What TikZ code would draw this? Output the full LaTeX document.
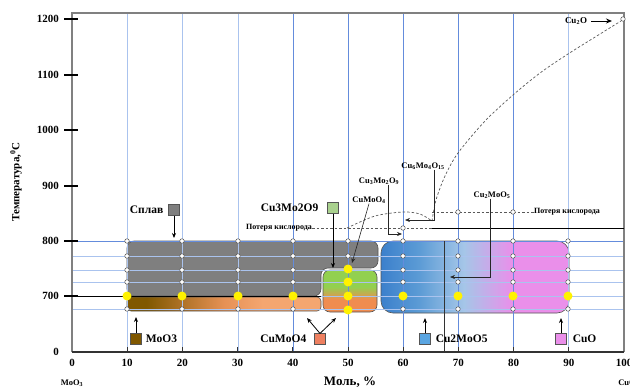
\documentclass[tikz,border=0pt]{standalone}
\usepackage{fontspec}
\setmainfont{Liberation Serif}
\usetikzlibrary{arrows.meta, positioning, calc}

\definecolor{GridBlue}{RGB}{100,140,220}
\definecolor{GridLight}{RGB}{170,195,238}
\definecolor{AlloyGray}{RGB}{127,127,127}
\definecolor{EdgeGray}{RGB}{85,85,85}
\definecolor{MoBrown}{RGB}{128,88,0}
\definecolor{MoOrange}{RGB}{230,145,85}
\definecolor{MoSalmon}{RGB}{244,166,112}
\definecolor{CmGreen}{RGB}{146,208,80}
\definecolor{CmLight}{RGB}{169,209,142}
\definecolor{CmOrange}{RGB}{240,140,80}
\definecolor{CuRed}{RGB}{238,128,96}
\definecolor{CuDeep}{RGB}{60,128,204}
\definecolor{CuBlue}{RGB}{91,155,213}
\definecolor{CuSky}{RGB}{165,198,232}
\definecolor{CuPink}{RGB}{234,143,234}
\definecolor{LegBlue}{RGB}{90,165,225}

\pgfdeclarehorizontalshading{moshade}{100bp}{color(0bp)=(MoBrown); color(30bp)=(MoBrown); color(50bp)=(MoOrange); color(60bp)=(MoSalmon); color(100bp)=(MoSalmon)}
\pgfdeclarehorizontalshading{bluepink}{100bp}{color(0bp)=(CuDeep); color(25bp)=(CuDeep); color(35bp)=(CuBlue); color(47bp)=(CuSky); color(60bp)=(CuPink); color(100bp)=(CuPink)}
\pgfdeclareverticalshading{greenshade}{100bp}{color(0bp)=(CmOrange); color(40bp)=(CmOrange); color(55bp)=(CmGreen); color(100bp)=(CmGreen)}

\begin{document}
\begin{tikzpicture}[x=1pt, y=-1pt,
        gridv/.style={GridBlue, line width=0.8pt},
        gridl/.style={GridLight, line width=0.8pt},
        region/.style={draw=EdgeGray, line width=0.6pt, rounded corners=7pt},
        ring/.style={circle, draw=EdgeGray, fill=white, inner sep=0pt, minimum size=4.5pt, line width=0.5pt},
        hot/.style={circle, fill=yellow, inner sep=0pt, minimum size=9pt},
        legsq/.style={rectangle, draw=EdgeGray, line width=0.6pt, inner sep=0pt, minimum size=10.5pt},
        leglab/.style={font=\fontsize{11.5}{13}\selectfont\bfseries, inner sep=0pt},
        smalllab/.style={font=\fontsize{8.5}{10}\selectfont\bfseries, inner sep=0pt},
        losslab/.style={font=\fontsize{8}{10}\selectfont\bfseries, inner sep=0pt},
        ticklab/.style={font=\fontsize{11}{13}\selectfont\bfseries, inner sep=0pt},
        arrow/.style={-{Stealth[length=5pt, width=4pt]}, line width=0.8pt, black},
        lead/.style={-{Stealth[length=5pt, width=4pt]}, line width=0.6pt, gray!30!black},
        lossline/.style={dash pattern=on 2.5pt off 2pt, gray!70!black, line width=0.7pt}
    ]
        \useasboundingbox (0,0) rectangle (630,388);

        % Phase regions
        \draw[region, fill=AlloyGray] (127,241) -- (378,241) -- (378,268) -- (321,268) -- (321,296) -- (127,296) -- cycle;
        \draw[region, rounded corners=4pt, shade, shading=moshade] (127,297) rectangle (321,311);
        \draw[region, shade, shading=greenshade] (323,270) rectangle (377,312);
        \draw[region, rounded corners=12pt, shade, shading=bluepink] (381,241) rectangle (569,313);

        % Grid
        \foreach \gx/\gs in {127/gridl,182/gridl,238/gridl,293/gridv,348/gridv,403/gridv,458/gridv,513/gridv,568/gridl}
            \draw[\gs] (\gx,13) -- (\gx,352);
        \draw[gridv] (72,241) -- (624,241);
        \foreach \gy in {256,270,282,309}
            \draw[gridl] (72,\gy) -- (624,\gy);
        \draw[gridl] (321,296) -- (624,296);
        \draw[black, line width=1pt] (64,296) -- (321,296);
        \draw[gray!40!black, line width=1pt] (444,241) -- (444,352);

        % Axes
        \draw[gray, line width=1.1pt] (72,352) -- (72,13) -- (624,13) -- (624,352);
        \draw[black!80, line width=1.3pt] (72,352) -- (624,352);
        \foreach \ty in {19,75,130,186,241,296}
            \draw[black, line width=1.2pt] (64,\ty) -- (78,\ty);
        \foreach \v in {10,20,...,90}
            \draw[black!80, line width=0.8pt] ({72+5.52*\v},347) -- ({72+5.52*\v},352);
        \foreach \ty/\tl in {19/1200,75/1100,130/1000,186/900,241/800,296/700,352/0}
            \node[ticklab, anchor=east] (yl\tl) at (59,\ty) {\tl};
        \foreach \v in {0,10,...,100}
            \node[ticklab] (xl\v) at ({72+5.52*\v},363) {\v};
        \node[font=\fontsize{8.5}{10}\selectfont\bfseries] (moleft) at (72,383) {MoO\textsubscript{3}};
        \node[font=\fontsize{13}{15}\selectfont\bfseries] (xtitle) at (350,382) {Моль, \%};
        \node[font=\fontsize{8.5}{10}\selectfont\bfseries] (curight) at (627,383) {CuO};
        \node[ticklab, rotate=90] (ytitle) at (16,182) {Температура,\textsuperscript{0}С};

        % Oxygen loss
        \node[losslab] (lossL) at (279,228) {Потеря кислорода};
        \node[losslab] (lossR) at (567,212) {Потеря кислорода};
        \coordinate (knee) at (432,228);
        \coordinate (kneeup) at (432,212);
        \coordinate (rightend) at (624,228);
        \draw[lossline] (lossL.east) -- (knee);
        \draw[black, line width=1pt] (knee) -- (rightend);
        \draw[lossline] (kneeup) -- (lossR.west);
        \draw[lossline] plot[smooth] coordinates {(347,228) (375,216) (403,212) (420,214) (432,221)};
        \draw[lossline] plot[smooth] coordinates {(432,221) (436,200) (445,176) (458,153) (485,121) (513,95) (540,73) (568,54) (600,34) (621,21)};

        % Measurement points
        \foreach \rx in {127,182,238,293,403,458,513,568}
            \foreach \ry in {241,256,270,282,309}
                \node[ring] (r\rx-\ry) at (\rx,\ry) {};
        \node[ring] (r348-241) at (348,241) {};
        \node[ring] (r348-256) at (348,256) {};
        \node[ring] (r403-228) at (403,228) {};
        \node[ring] (r458-212) at (458,212) {};
        \node[ring] (r513-212) at (513,212) {};
        \foreach \hx in {127,182,238,293,348,403,458,513,568}
            \node[hot] (h\hx) at (\hx,296) {};
        \foreach \hy in {269,282,310}
            \node[hot] (hm\hy) at (348,\hy) {};

        % Legend
        \node[legsq, fill=AlloyGray] (splavsq) at (174,210) {};
        \node[leglab, left=5pt of splavsq] (splav) {Сплав};
        \coordinate (splavtip) at (174,238);
        \draw[arrow] (splavsq) -- (splavtip);

        \node[legsq, fill=MoBrown] (moosq) at (136,339) {};
        \node[leglab, right=4pt of moosq] (moo) {MoO3};
        \coordinate (mootip) at (136,317);
        \draw[arrow] (moosq) -- (mootip);

        \node[legsq, fill=CmLight] (cmsq) at (333,208) {};
        \node[leglab, left=9pt of cmsq] (cm) {Cu3Mo2O9};
        \coordinate (cmtip) at (333,268);
        \draw[arrow] (cmsq) -- (cmtip);

        \node[legsq, fill=CuRed] (cmosq) at (320,339) {};
        \node[leglab, left=8pt of cmosq] (cmo) {CuMoO4};
        \coordinate (cmoL) at (307,318);
        \coordinate (cmoR) at (336,318);
        \draw[arrow] (cmosq.north) -- (cmoL);
        \draw[arrow] (cmosq.north) -- (cmoR);

        \node[legsq, fill=LegBlue] (c2sq) at (425,339) {};
        \node[leglab, right=5pt of c2sq] (c2) {Cu2MoO5};
        \coordinate (c2tip) at (425,318);
        \draw[arrow] (c2sq) -- (c2tip);

        \node[legsq, fill=CuPink] (cuosq) at (561,339) {};
        \node[leglab, right=6pt of cuosq] (cuo) {CuO};
        \coordinate (cuotip) at (561,318);
        \draw[arrow] (cuosq) -- (cuotip);

        \node[ring] (cu2oring) at (623,19) {};
        \node[font=\fontsize{9}{11}\selectfont\bfseries, inner sep=0pt] (cu2o) at (576,21) {Cu\textsubscript{2}O};
        \coordinate (cu2ofrom) at (591,21);
        \coordinate (cu2otip) at (612,21);
        \draw[-{Stealth[length=6pt, width=5pt]}, line width=1pt, black] (cu2ofrom) -- (cu2otip);

        % Compound leaders
        \node[smalllab] (l6) at (423,166) {Cu\textsubscript{6}Mo\textsubscript{4}O\textsubscript{15}};
        \coordinate (l6bend) at (434,220);
        \coordinate (l6tip) at (405,220);
        \draw[lead] (l6.south -| l6bend) -- (l6bend) -- (l6tip);

        \node[smalllab] (l3) at (379,181) {Cu\textsubscript{3}Mo\textsubscript{2}O\textsubscript{9}};
        \coordinate (l3bend) at (388,234);
        \coordinate (l3tip) at (402,234);
        \draw[lead] (l3.south -| l3bend) -- (l3bend) -- (l3tip);

        \node[smalllab] (l1) at (369,200) {CuMoO\textsubscript{4}};
        \coordinate (l1tip) at (352,263);
        \draw[lead] (l1.south) -- (l1tip);

        \node[smalllab] (l2) at (492,195) {Cu\textsubscript{2}MoO\textsubscript{5}};
        \coordinate (l2bend) at (490,277);
        \coordinate (l2tip) at (450,277);
        \draw[lead] (l2.south -| l2bend) -- (l2bend) -- (l2tip);
    \end{tikzpicture}
\end{document}
